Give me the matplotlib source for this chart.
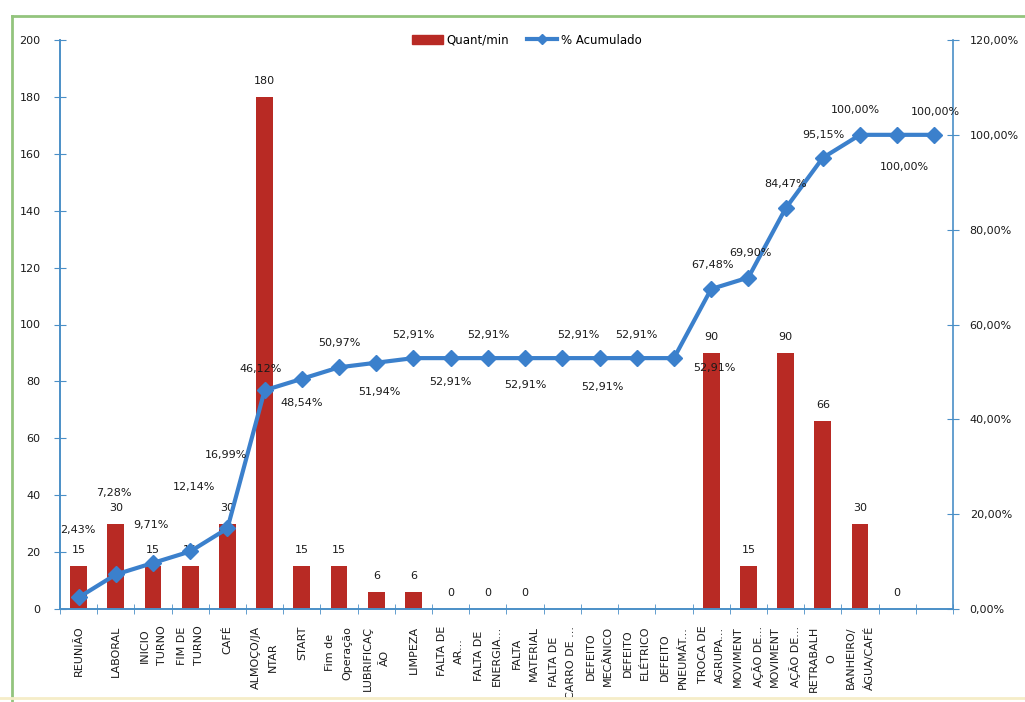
import numpy as np
import matplotlib
matplotlib.use("Agg")
import matplotlib.pyplot as plt
from matplotlib.lines import Line2D
from matplotlib.patches import Patch

# dados
categorias = ["REUNIÃO", "LABORAL", "INICIO\nTURNO", "FIM DE\nTURNO", "CAFÉ",
              "ALMOÇO/JA\nNTAR", "START", "Fim de\nOperação", "LUBRIFICAÇ\nÃO",
              "LIMPEZA", "FALTA DE\nAR...", "FALTA DE\nENERGIA...", "FALTA\nMATERIAL",
              "FALTA DE\nCARRO DE ...", "DEFEITO\nMECÂNICO", "DEFEITO\nELÉTRICO",
              "DEFEITO\nPNEUMÁT...", "TROCA DE\nAGRUPA...", "MOVIMENT\nAÇÃO DE...",
              "MOVIMENT\nAÇÃO DE...", "RETRABALH\nO", "BANHEIRO/\nÁGUA/CAFÉ", "", ""]
quant_min = [15, 30, 15, 15, 30, 180, 15, 15, 6, 6, 0, 0, 0,
             np.nan, np.nan, np.nan, np.nan, 90, 15, 90, 66, 30, 0, np.nan]
pct_acum = [2.43, 7.28, 9.71, 12.14, 16.99, 46.12, 48.54, 50.97, 51.94,
            52.91, 52.91, 52.91, 52.91, 52.91, 52.91, 52.91, 52.91,
            67.48, 69.90, 84.47, 95.15, 100.00, 100.00, 100.00]
ticks_esq = [0, 20, 40, 60, 80, 100, 120, 140, 160, 180, 200]
ticks_dir = [0, 20, 40, 60, 80, 100, 120]

# deslocamento dos rótulos da linha (pixels)
desloc = [(-1, 67), (-2, 81), (-2, 38), (4, 64), (-1, 73), (-4, 21), (0, -24), (0, 24),
          (3, -29), (0, 23), (0, -24), (0, 23), (0, -27), (16, 23), (3, -29), (0, 23),
          (40, -10), (1, 24), (2, 25), (0, 24), (1, 23), (-5, 25), (7, -32), (1, 23)]

vermelho = "#B82A24"
azul = "#3B80CC"
eixo = "#4A8FC7"
texto = "#1a1a1a"
fs = 8

fig = plt.figure(figsize=(10.25, 7.02), dpi=100)
ax = fig.add_axes([60 / 1025, 1 - 609 / 702, (953 - 60) / 1025, (609 - 40) / 702])
ax2 = ax.twinx()

x = np.arange(len(categorias))
ax.bar(x, quant_min, width=0.45, color=vermelho, zorder=2)
for xi, v in zip(x, quant_min):
    if not np.isnan(v):
        ax.annotate(f"{int(v)}", (xi, v), xytext=(0, 16), textcoords="offset pixels",
                    ha="center", va="center", fontsize=fs, color=texto)

ax2.plot(x, pct_acum, color=azul, lw=3, marker="D", ms=8, zorder=3)
for xi, p, (dx, dy) in zip(x, pct_acum, desloc):
    ax2.annotate(f"{p:.2f}%".replace(".", ","), (xi, p), xytext=(dx, dy),
                 textcoords="offset pixels", ha="center", va="center",
                 fontsize=fs, color=texto)

ax.set_xlim(-0.5, len(categorias) - 0.5)
ax.set_ylim(0, 200)
ax2.set_ylim(0, 120)
ax.set_yticks(ticks_esq)
ax2.set_yticks(ticks_dir)
ax2.set_yticklabels([f"{t:.2f}%".replace(".", ",") for t in ticks_dir])
ax.set_xticks(x)
ax.set_xticklabels(categorias, rotation=90, fontsize=fs, color=texto,
                   multialignment="center", linespacing=1.9)
ax.set_xticks(np.arange(-0.5, len(categorias)), minor=True)
ax.tick_params(axis="x", which="major", length=0, pad=12)
ax.tick_params(axis="x", which="minor", length=7, direction="inout", color=eixo)
ax.tick_params(axis="y", length=8, direction="inout", color=eixo, labelsize=fs,
               labelcolor=texto, pad=10)
ax2.tick_params(axis="y", length=8, direction="inout", color=eixo, labelsize=fs,
                labelcolor=texto, pad=8)

for a in (ax, ax2):
    a.spines["top"].set_visible(False)
    for s in ("left", "right", "bottom"):
        a.spines[s].set_color(eixo)
        a.spines[s].set_linewidth(1.2)
ax.spines["right"].set_visible(False)

leg = [Patch(color=vermelho, label="Quant/min"),
       Line2D([], [], color=azul, lw=3, marker="D", ms=5, label="% Acumulado")]
fig.legend(handles=leg, loc="center", bbox_to_anchor=(527 / 1025, 1 - 40 / 702),
           ncol=2, frameon=False, fontsize=8.5, handlelength=2.6, columnspacing=1.5,
           handletextpad=0.3)

# moldura verde
fig.add_artist(Line2D([12 / 1025, 1], [1 - 16 / 702, 1 - 16 / 702], color="#93C47D", lw=2))
fig.add_artist(Line2D([12 / 1025, 12 / 1025], [0, 1 - 16 / 702], color="#93C47D", lw=2))
fig.add_artist(Line2D([0, 1], [1 - 698 / 702, 1 - 698 / 702], color="#F5EDC8", lw=2))

fig.savefig("out.png", dpi=100)
